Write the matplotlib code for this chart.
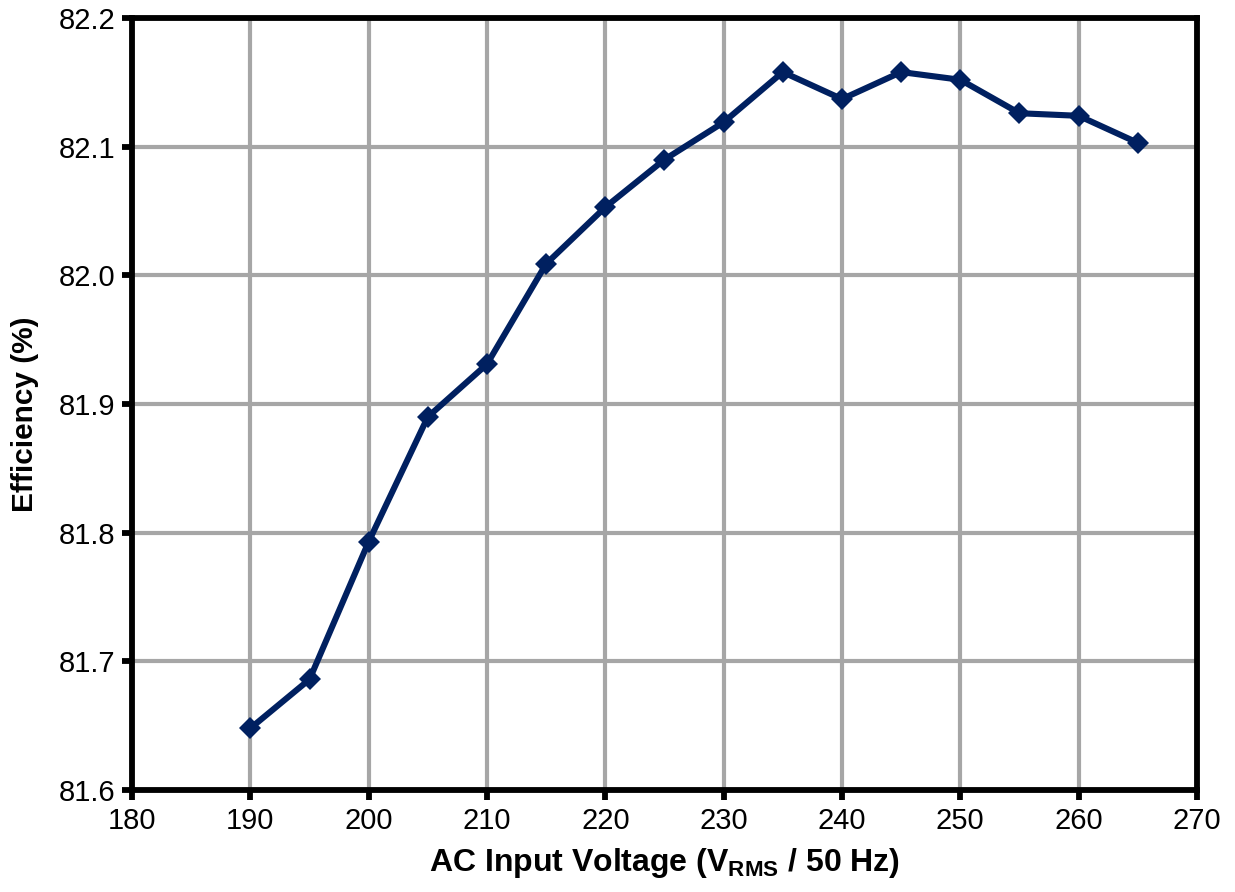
import matplotlib
matplotlib.use("Agg")
import matplotlib.pyplot as plt

voltage = [190, 195, 200, 205, 210, 215, 220, 225, 230, 235, 240, 245, 250, 255, 260, 265]
efficiency = [81.648, 81.686, 81.793, 81.890, 81.931, 82.009, 82.053, 82.090,
              82.119, 82.158, 82.137, 82.158, 82.152, 82.126, 82.124, 82.103]
xticks = list(range(180, 271, 10))
yticks = [81.6, 81.7, 81.8, 81.9, 82.0, 82.1, 82.2]

plt.rcParams['font.family'] = ['Liberation Sans', 'DejaVu Sans']
plt.rcParams['mathtext.fontset'] = 'custom'
plt.rcParams['mathtext.rm'] = 'Liberation Sans:bold'
plt.rcParams['mathtext.bf'] = 'Liberation Sans:bold'

fig = plt.figure(figsize=(12.35, 8.92), dpi=100)
ax = fig.add_axes([0.1069, 0.1143, 0.8623, 0.8655])

ax.plot(voltage, efficiency, color='#002060', lw=4.4, marker='D', markersize=11.5,
        markeredgewidth=0, zorder=3, clip_on=False)

ax.set_xlim(180, 270)
ax.set_ylim(81.6, 82.2)
ax.set_xticks(xticks)
ax.set_yticks(yticks)
ax.set_yticklabels([f"{v:.1f}" for v in yticks])
ax.grid(True, color='#A6A6A6', lw=3.0)
ax.set_axisbelow(True)
for s in ax.spines.values():
    s.set_linewidth(4.2)
    s.set_color('black')
ax.tick_params(axis='both', direction='out', length=7, width=4.2, labelsize=21, pad=5)

ax.set_xlabel(r"AC Input Voltage (V$_\mathbf{RMS}$ / 50 Hz)", fontsize=23, fontweight='bold', labelpad=8)
ax.set_ylabel("Efficiency (%)", fontsize=21.5, fontweight='bold')
ax.yaxis.set_label_coords(-0.087, 0.487)

fig.savefig("out.png", dpi=100, facecolor='white')
